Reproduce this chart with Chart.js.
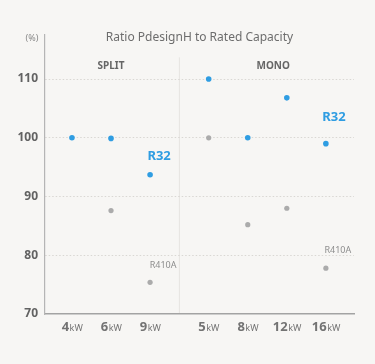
<!DOCTYPE html>
<html>
<head>
<meta charset="utf-8">
<script src="https://cdn.jsdelivr.net/npm/chart.js@4.4.1/dist/chart.umd.min.js"></script>
<style>
  html, body { margin: 0; padding: 0; background: #f7f6f4; }
  #wrap { width: 375px; height: 364px; }
</style>
</head>
<body>
<div id="wrap"><canvas id="myChart-Ratio"></canvas></div>
<script>
// capacities (kW) and which unit type they belong to
const capacities = ['4', '6', '9', '5', '8', '12', '16'];
const unitTypes = ['SPLIT', 'SPLIT', 'SPLIT', 'MONO', 'MONO', 'MONO', 'MONO'];

// ratio PdesignH / rated capacity (%)
const r32Values = [100, 99.9, 93.7, 110, 100, 106.8, 99.0];
const r410aValues = [null, 87.6, 75.4, 100, 85.2, 88.0, 77.8];

const yTicks = [70, 80, 90, 100, 110];

const blue = '#2f9de2';
const grey = '#ababab';
const fontFamily = "'Noto Sans', 'Open Sans', sans-serif";

// mono group is shifted half a step to leave a gap after the split units
const xPos = capacities.map((c, i) => i + 1 + (unitTypes[i] === 'MONO' ? 0.5 : 0));
const toPoints = vals => vals.map((v, i) => ({ x: xPos[i], y: v })).filter(p => p.y !== null);

const dividerX = (xPos[2] + xPos[3]) / 2;

const decorations = {
  id: 'decorations',
  beforeDraw(chart) {
    const { ctx, chartArea, scales: { x, y } } = chart;
    ctx.save();
    ctx.fillStyle = '#f7f6f4';
    ctx.fillRect(0, 0, chart.width, chart.height);
    // split / mono divider
    const dx = x.getPixelForValue(dividerX);
    ctx.strokeStyle = '#e6e4e1';
    ctx.lineWidth = 1;
    ctx.beginPath();
    ctx.moveTo(dx, y.getPixelForValue(113.7));
    ctx.lineTo(dx, chartArea.bottom);
    ctx.stroke();
    ctx.restore();
  },
  afterDraw(chart) {
    const { ctx, chartArea, scales: { x, y } } = chart;
    ctx.save();
    ctx.textBaseline = 'middle';

    // title and unit
    ctx.textAlign = 'center';
    ctx.fillStyle = '#6d6d6d';
    ctx.font = '12px ' + fontFamily;
    ctx.fillText('Ratio PdesignH to Rated Capacity', (chartArea.left + chartArea.right) / 2, 38);
    ctx.fillStyle = '#8a8a8a';
    ctx.font = '9px ' + fontFamily;
    ctx.fillText('(%)', 32, 38);

    // group headings
    ctx.fillStyle = '#666';
    ctx.font = 'bold 10px ' + fontFamily;
    ctx.fillText('SPLIT', x.getPixelForValue(xPos[1]), 66);
    ctx.fillText('MONO', x.getPixelForValue(6.15), 66);

    // x labels: big number + small unit
    capacities.forEach((c, i) => {
      const cx = x.getPixelForValue(xPos[i]);
      ctx.font = 'bold 13px ' + fontFamily;
      const w1 = ctx.measureText(c).width;
      ctx.font = '9px ' + fontFamily;
      const w2 = ctx.measureText('kW').width;
      const start = cx - (w1 + w2) / 2;
      ctx.textAlign = 'left';
      ctx.fillStyle = '#737373';
      ctx.font = 'bold 13px ' + fontFamily;
      ctx.fillText(c, start, 327);
      ctx.font = '9px ' + fontFamily;
      ctx.fillText('kW', start + w1 + 0.5, 328);
    });

    // series labels next to their points
    const tag = (text, idx, vals, dx, dy, font, color) => {
      ctx.textAlign = 'center';
      ctx.font = font;
      ctx.fillStyle = color;
      ctx.fillText(text, x.getPixelForValue(xPos[idx]) + dx, y.getPixelForValue(vals[idx]) + dy);
    };
    tag('R32', 2, r32Values, 9, -18, 'bold 13px ' + fontFamily, blue);
    tag('R32', 6, r32Values, 8, -26, 'bold 13px ' + fontFamily, blue);
    tag('R410A', 2, r410aValues, 13, -17, '9px ' + fontFamily, '#8d8d8d');
    tag('R410A', 6, r410aValues, 12, -18, '9px ' + fontFamily, '#8d8d8d');
    ctx.restore();
  }
};

const ctxRatio = document.getElementById('myChart-Ratio');

new Chart(ctxRatio, {
  type: 'scatter',
  data: {
    datasets: [
      {
        label: 'R410A',
        data: toPoints(r410aValues),
        pointRadius: 2.6,
        pointHoverRadius: 2.6,
        pointBorderWidth: 0,
        backgroundColor: grey,
        borderColor: grey
      }, {
        label: 'R32',
        data: toPoints(r32Values),
        pointRadius: 2.8,
        pointHoverRadius: 2.8,
        pointBorderWidth: 0,
        backgroundColor: blue,
        borderColor: blue
      }]
  },
  options: {
    responsive: true,
    maintainAspectRatio: false,
    animation: false,
    layout: { padding: { top: 35, right: 21, left: 0, bottom: 0 } },
    plugins: {
      legend: { display: false },
      tooltip: { enabled: false }
    },
    scales: {
      x: {
        type: 'linear',
        min: 0.31,
        max: 8.22,
        afterFit: scale => { scale.height = 50; },
        ticks: { display: false },
        grid: { display: false },
        border: { color: '#a3a3a3', width: 1.5 }
      },
      y: {
        min: 70,
        max: 117.5,
        afterFit: scale => { scale.width = 45; },
        afterBuildTicks: scale => { scale.ticks = yTicks.map(v => ({ value: v })); },
        ticks: {
          padding: 7,
          color: '#626262',
          font: { family: fontFamily, size: 12, weight: 'bold' }
        },
        grid: {
          drawTicks: false,
          color: ctx => ctx.tick && ctx.tick.value > 70 ? '#d9d7d3' : 'rgba(0,0,0,0)',
          lineWidth: 1
        },
        border: { color: '#b5b5b5', width: 1.2, dash: [1.5, 2] }
      }
    }
  },
  plugins: [decorations]
});
</script>
</body>
</html>
